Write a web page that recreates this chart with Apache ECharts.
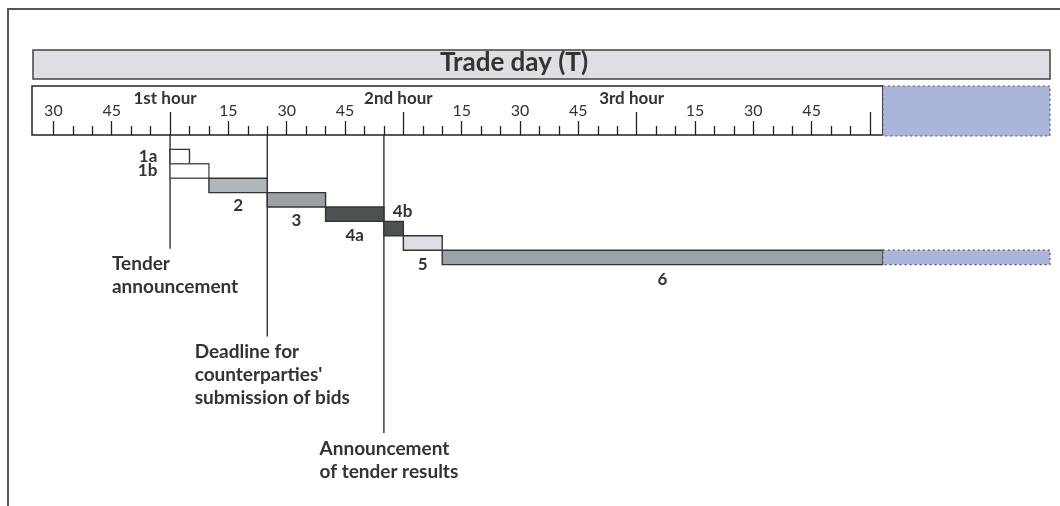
<!DOCTYPE html>
<html>
<head>
<meta charset="utf-8">
<script src="https://cdn.jsdelivr.net/npm/echarts@6/dist/echarts.min.js"></script>
<style>
html, body { margin: 0; padding: 0; background: #fff; }
#chart { width: 1060px; height: 506px; }
</style>
</head>
<body>
<div id="chart"></div>
<script>
// time in minutes, 0 = start of the 1st hour
const axisStart = -35.5
const rulerEnd = 183.3
const axisEnd = 226.3

const steps = ['1a', '1b', '2', '3', '4a', '4b', '5', '6']
const stepStart = [0, 0, 10, 25, 40, 55, 60, 70]
const stepEnd = [5, 10, 25, 40, 55, 60, 70, 183.3]

// ruler ticks
const fiveMinTicks = [-25, -20, -10, -5, 5, 10, 20, 25, 35, 40, 50, 55, 65, 70, 80, 85, 95, 100,
  110, 115, 125, 130, 140, 145, 155, 160, 170, 175]
const quarterTicks = [-30, -15, 15, 30, 45, 75, 90, 105, 135, 150, 165]
const quarterLabels = ['30', '45', '15', '30', '45', '15', '30', '45', '15', '30', '45']
const hourTicks = [0, 60, 120, 180]
const hourLabels = ['1st hour', '2nd hour', '3rd hour', '']

const eventNames = ['Tender\nannouncement', "Deadline for\ncounterparties'\nsubmission of bids", 'Announcement\nof tender results']
const eventTimes = [0, 25, 55]
const eventLineEnd = [6.9, 13, 19.7] // rows below first step

const ink = '#333'
const stepStyle = {
  '1a': { fill: '#ffffff', stroke: '#333', pos: 'left', dist: 12 },
  '1b': { fill: '#ffffff', stroke: '#555', pos: 'left', dist: 12 },
  '2': { fill: '#b1b6bc', stroke: '#333', pos: 'bottom', dist: 4 },
  '3': { fill: '#9ca1a6', stroke: '#333', pos: 'bottom', dist: 4 },
  '4a': { fill: '#4b5254', stroke: '#333', pos: 'bottom', dist: 5 },
  '4b': { fill: '#4b5254', stroke: '#333', pos: 'top', dist: 1, offset: [9, 0] },
  '5': { fill: '#dcdfe3', stroke: '#333', pos: 'bottom', dist: 5 },
  '6': { fill: '#9ca1a6', stroke: '#333', pos: 'bottom', dist: 6 }
}
const blue = '#abb5d9'
const fontFamily = 'Lato, "DejaVu Sans", sans-serif'
const eventFont = 'bold 19px ' + fontFamily

let measureCtx = document.createElement('canvas').getContext('2d')
function blockWidth (text) {
  measureCtx.font = eventFont
  return Math.max.apply(null, text.split('\n').map(s => measureCtx.measureText(s).width))
}

let stepData = steps.map((s, i) => [stepStart[i], stepEnd[i], i, s])
let eventData = eventTimes.map((t, i) => [t, eventLineEnd[i], eventNames[i]])

function rulerAxis (ticks, len, labels, labelStyle) {
  return {
    type: 'value',
    position: 'top',
    min: axisStart,
    max: axisEnd,
    axisLine: { show: false, onZero: false },
    splitLine: { show: false },
    axisTick: {
      show: true,
      inside: false,
      length: len,
      customValues: ticks,
      lineStyle: { color: '#222', width: 1.3 }
    },
    axisLabel: Object.assign({
      show: true,
      customValues: ticks,
      formatter: v => labels ? (labels[ticks.indexOf(v)] || '') : '',
      color: ink,
      fontFamily: fontFamily
    }, labelStyle)
  }
}

let myChart = echarts.init(document.getElementById('chart'))
let option = {
  animation: false,
  title: {
    text: 'Trade day (T)',
    left: 514,
    top: 50,
    padding: 0,
    textAlign: 'center',
    textStyle: { fontSize: 26, fontWeight: 'bold', color: ink, fontFamily: fontFamily }
  },
  graphic: [{
    type: 'rect',
    shape: { x: 8, y: 9, width: 1200, height: 700 },
    style: { fill: 'none', stroke: '#555', lineWidth: 2 },
    z: -10
  }],
  // row -1 is the gap between the ruler and the first step
  grid: { left: 32, right: 10, top: 135, height: 360 },
  xAxis: [
    rulerAxis(fiveMinTicks, 9, null, { fontSize: 10 }),
    rulerAxis(quarterTicks, 14, quarterLabels, { fontSize: 16, margin: 16 }),
    rulerAxis(hourTicks, 23, hourLabels, { fontSize: 17, fontWeight: 'bold', margin: 28, padding: [0, 10, 0, 0] })
  ],
  yAxis: { type: 'value', min: -1, max: 24, inverse: true, show: false },
  series: [
    {
      // title bar, ruler frame and the blue part beyond the ruler
      type: 'custom',
      clip: false,
      silent: true,
      z: 1,
      data: [[axisStart, rulerEnd, axisEnd]],
      renderItem (params, api) {
        let x0 = api.coord([api.value(0), 0])[0]
        let x1 = api.coord([api.value(1), 0])[0]
        let x2 = api.coord([api.value(2), 0])[0]
        let top = params.coordSys.y
        return {
          type: 'group',
          children: [
            { type: 'rect', shape: { x: x0 + 1, y: top - 85, width: x2 - x0 - 1, height: 29 },
              style: { fill: '#dcdfe3', stroke: '#444', lineWidth: 1.5 } },
            { type: 'rect', shape: { x: x0, y: top - 49, width: x1 - x0, height: 49 },
              style: { fill: 'none', stroke: '#222', lineWidth: 1.5 } },
            { type: 'rect', shape: { x: x1, y: top - 49, width: x2 - x1, height: 50 },
              style: { fill: blue, stroke: '#555', lineWidth: 1.2, lineDash: [2, 3] } }
          ]
        }
      }
    },
    {
      name: 'steps',
      type: 'custom',
      clip: false,
      z: 3,
      data: stepData,
      renderItem (params, api) {
        let a = api.coord([api.value(0), api.value(2)])
        let b = api.coord([api.value(1), api.value(2) + 1])
        let name = stepData[params.dataIndex][3]
        let st = stepStyle[name]
        return {
          type: 'rect',
          shape: { x: a[0], y: a[1], width: b[0] - a[0], height: b[1] - a[1] },
          style: { fill: st.fill, stroke: st.stroke, lineWidth: 1.4 },
          textContent: {
            style: { text: name, fill: ink, font: 'bold 17px ' + fontFamily }
          },
          textConfig: { position: st.pos, distance: st.dist, offset: st.offset || [0, 0] }
        }
      }
    },
    {
      // continuation of step 6 into the next period
      type: 'custom',
      clip: false,
      z: 3,
      data: [[rulerEnd, axisEnd, steps.indexOf('6')]],
      renderItem (params, api) {
        let a = api.coord([api.value(0), api.value(2)])
        let b = api.coord([api.value(1), api.value(2) + 1])
        return {
          type: 'rect',
          shape: { x: a[0], y: a[1], width: b[0] - a[0], height: b[1] - a[1] },
          style: { fill: blue, stroke: '#555', lineWidth: 1.2, lineDash: [2, 3] }
        }
      }
    },
    {
      name: 'events',
      type: 'custom',
      clip: false,
      z: 2,
      data: eventData,
      renderItem (params, api) {
        let p = api.coord([api.value(0), api.value(1)])
        let top = params.coordSys.y
        let text = eventData[params.dataIndex][2]
        let w = blockWidth(text)
        return {
          type: 'group',
          children: [
            { type: 'line', shape: { x1: p[0], y1: top, x2: p[0], y2: p[1] },
              style: { stroke: '#222', lineWidth: 1.3 } },
            { type: 'text', x: p[0] + 5 - w / 2, y: p[1] + 4,
              style: { text: text, font: eventFont, fill: ink, align: 'left', verticalAlign: 'top', lineHeight: 23 } }
          ]
        }
      }
    }
  ]
}
myChart.setOption(option)
</script>
</body>
</html>
